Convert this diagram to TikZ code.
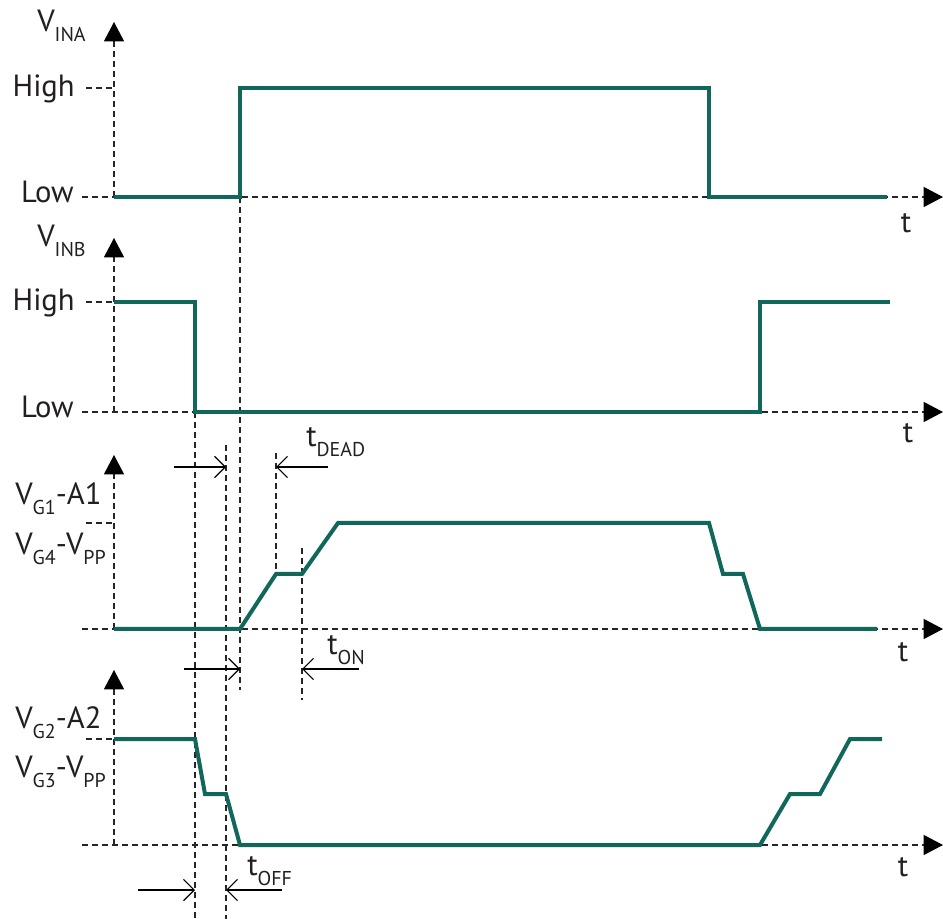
\documentclass[tikz,border=0pt]{standalone}
\usepackage{fontspec}
\setmainfont{PT Sans}
\usepackage{tikz}
\usetikzlibrary{arrows.meta}
\definecolor{sigteal}{HTML}{12675B}
\definecolor{inkgray}{HTML}{231F20}
\newcommand{\lowsub}[1]{\raisebox{-7.5pt}{\fontsize{15}{15}\selectfont #1}}

\begin{document}
\begin{tikzpicture}[
    x=0.75pt, y=-0.75pt,
    guide/.style={draw=black!85, line width=1pt, dash pattern=on 4.5pt off 3pt},
    axisline/.style={guide, -{Triangle[length=14.5pt,width=15pt,black]}},
    sig/.style={draw=sigteal, line width=3pt, line join=miter},
    dimarrow/.style={draw=black, line width=0.9pt, -{Straight Barb[length=8pt,width=16pt]}},
    lbl/.style={font=\fontsize{23}{26}\selectfont, text=inkgray, inner sep=0pt}
]
\useasboundingbox (0,0) rectangle (943,919);

% axes of the four panels
\foreach \ytip/\ybase in {22/197, 238/412, 455/629, 670/845} {
  \draw[axisline] (114,\ybase) -- (114,\ytip);
  \draw[axisline] (82,\ybase) -- (943,\ybase);
}
\foreach \y in {88, 302, 523, 739}
  \draw[guide] (86,\y) -- (114,\y);

% timing guides
\foreach \x/\ya/\yb in {240/197/690, 195/412/919, 226/445/919, 276/453/574, 302/548/700}
  \draw[guide] (\x,\ya) -- (\x,\yb);

% signals
\draw[sig] (114,197) -- (240,197) -- (240,88) -- (709,88) -- (709,197) -- (887,197);
\draw[sig] (114,302) -- (195,302) -- (195,412) -- (760,412) -- (760,302) -- (890,302);
\draw[sig] (114,629) -- (240,629) -- (276,574) -- (302,574) -- (338,523) -- (709,523)
  -- (723,574) -- (743,574) -- (760,629) -- (877,629);
\draw[sig] (114,739) -- (195,739) -- (205,794) -- (226,794) -- (240,845) -- (760,845)
  -- (790,794) -- (820,794) -- (850,739) -- (882,739);

% level labels
\node[lbl, anchor=base west] (vina) at (37,32) {V\lowsub{INA}};
\node[lbl, anchor=base east] (higha) at (75,97) {High};
\node[lbl, anchor=base east] (lowa) at (74,203) {Low};
\node[lbl, anchor=base west] (vinb) at (37,247) {V\lowsub{INB}};
\node[lbl, anchor=base east] (highb) at (75,311) {High};
\node[lbl, anchor=base east] (lowb) at (74,418) {Low};
\node[lbl, anchor=base west] (vga) at (15,505) {V\lowsub{G1}-A1};
\node[lbl, anchor=base west] (vgb) at (15,555) {V\lowsub{G4}-V\lowsub{PP}};
\node[lbl, anchor=base west] (vgc) at (15,728) {V\lowsub{G2}-A2};
\node[lbl, anchor=base west] (vgd) at (15,777) {V\lowsub{G3}-V\lowsub{PP}};

% time axis labels
\foreach \n/\x/\y in {a/906/223, b/908/433, c/903/652, d/903/867}
  \node[lbl] (t\n) at (\x,\y) {t};

% delay markers
\draw[dimarrow] (174,467) -- (226,467);
\draw[dimarrow] (328,467) -- (276,467);
\draw[dimarrow] (184,669) -- (240,669);
\draw[dimarrow] (359,669) -- (302,669);
\draw[dimarrow] (138,890) -- (195,890);
\draw[dimarrow] (282,890) -- (226,890);
\node[lbl, anchor=base west] (tdead) at (306,447) {t\lowsub{DEAD}};
\node[lbl, anchor=base west] (ton) at (327,655) {t\lowsub{ON}};
\node[lbl, anchor=base west] (toff) at (247,875) {t\lowsub{OFF}};
\end{tikzpicture}
\end{document}
